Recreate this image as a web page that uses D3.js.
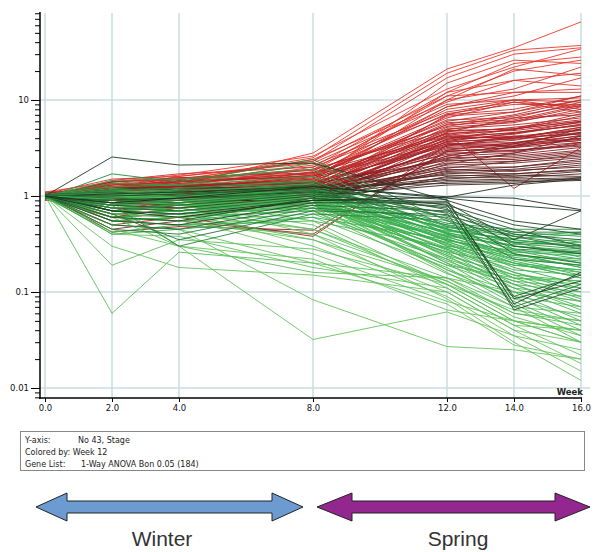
<!DOCTYPE html>
<html>
<head>
<meta charset="utf-8">
<script src="https://cdn.jsdelivr.net/npm/d3@7"></script>
<style>
  body { margin: 0; background: #fff; }
  svg { display: block; }
</style>
</head>
<body>
<svg id="chart"></svg>
<script>
// Time points (weeks) and tick labels
const weeks = [0, 2, 4, 8, 12, 14, 16];
const xTickLabels = ["0.0", "2.0", "4.0", "8.0", "12.0", "14.0", "16.0"];
const yMajorTicks = [0.01, 0.1, 1, 10];
const yTickLabels = ["0.01", "0.1", "1", "10"];

// Normalised expression per gene at each week
const strongUp = [
  [1.00,1.25,1.30,2.80,21,35,65],
  [1.05,1.15,1.45,2.50,19,33,37],
  [0.95,1.35,1.50,2.30,17,30,35],
  [1.00,1.40,1.65,2.60,13,22,34],
  [1.10,1.20,1.25,2.00,12,24,28],
  [0.90,1.05,1.10,1.80,11,20,26],
  [1.00,0.95,1.30,1.90,10,13,22],
  [1.00,1.30,1.40,2.40,9.5,16,19],
  [1.05,1.50,1.60,2.20,9.0,10,10.5],
  [0.95,1.20,1.50,1.70,8.5,11,17],
  [1.00,1.10,1.20,1.60,8.0,10,9.5],
  [1.00,0.80,1.00,1.50,8.5,12,12],
  [0.90,1.20,1.40,2.10,7.5,9.5,8.5],
  [1.10,1.40,1.55,1.50,12,16,14],
  [1.00,0.70,0.85,1.30,10,21,18],
  [1.00,1.00,1.15,1.40,15,26,24],
  [0.95,1.45,1.70,2.00,7.0,8.0,11],
  [1.05,1.25,1.35,1.75,7.2,9.0,9.0],
  [1.00,0.90,1.05,1.25,6.8,7.5,10],
  [1.00,1.35,1.25,1.65,6.5,9.5,7.5],
  [0.92,0.60,0.75,1.10,7.0,10,8.0],
  [1.08,1.20,1.60,2.30,11,12,13]
];

const moderateUp = [
  [1.00,1.10,1.20,1.60,6.2,6.5,9.5],
  [0.95,0.95,1.05,1.40,5.8,6.2,8.8],
  [1.05,1.30,1.40,1.70,5.5,6.0,7.5],
  [1.00,0.85,0.90,1.20,5.2,5.8,8.0],
  [0.98,1.15,1.25,1.50,5.0,5.5,6.5],
  [1.02,1.40,1.50,1.90,4.8,5.0,6.0],
  [1.00,0.75,0.80,1.10,4.6,6.5,7.0],
  [0.93,1.05,1.10,1.35,4.5,4.8,5.8],
  [1.07,1.20,1.30,1.45,4.4,5.2,6.2],
  [1.00,0.65,0.70,0.95,4.2,4.5,5.5],
  [0.96,1.00,1.15,1.30,4.1,4.0,5.0],
  [1.04,1.25,1.45,1.60,4.0,4.6,5.4],
  [1.00,0.90,0.95,1.05,3.9,4.2,4.8],
  [0.97,1.10,1.20,1.25,3.8,4.4,5.6],
  [1.03,0.55,0.60,0.90,3.7,3.9,4.6],
  [1.00,1.35,1.20,1.55,3.6,4.1,4.4],
  [0.99,0.80,0.90,1.15,3.5,3.6,4.2],
  [1.01,1.00,1.05,1.20,3.4,3.8,4.9],
  [0.94,1.15,1.30,1.40,3.3,3.5,4.0],
  [1.06,0.70,0.80,1.00,3.2,3.4,3.9],
  [1.00,1.05,1.10,1.10,3.1,3.3,3.8],
  [1.00,0.45,0.55,0.40,3.0,3.6,4.5],
  [0.95,0.50,0.60,0.38,3.4,4.0,5.2],
  [1.05,0.42,0.48,0.44,2.9,3.2,3.6],
  [1.00,1.20,1.35,1.65,6.0,7.5,11],
  [0.98,0.95,1.00,1.30,5.6,7.0,10],
  [1.02,1.30,1.50,1.85,5.3,6.8,9.0],
  [1.00,0.85,1.00,1.20,4.9,6.0,8.5],
  [0.96,1.10,1.25,1.45,4.7,5.0,7.2],
  [1.04,0.60,0.75,1.00,4.3,4.9,6.8],
  [1.00,1.40,1.55,1.75,4.2,4.0,5.2],
  [0.97,1.00,1.10,1.25,3.9,5.0,6.0],
  [1.03,0.75,0.85,1.05,3.7,4.5,5.9],
  [1.00,1.25,1.30,1.35,3.5,3.3,4.3],
  [1.00,0.90,0.75,0.95,3.3,4.2,3.6],
  [0.95,1.15,1.40,1.60,4.5,1.2,3.2],
  [1.05,0.80,0.95,1.15,3.0,3.0,3.4]
];

const weakUp = [
  [1.00,1.00,1.05,1.20,2.9,3.2,4.0],
  [0.97,0.85,0.90,1.10,2.8,2.9,3.6],
  [1.03,1.15,1.20,1.30,2.7,3.0,3.3],
  [1.00,0.70,0.80,0.95,2.6,2.8,3.5],
  [0.95,1.05,1.10,1.15,2.5,2.6,3.0],
  [1.05,0.95,1.00,1.05,2.4,2.7,3.2],
  [1.00,1.20,1.25,1.35,2.35,2.4,2.8],
  [0.98,0.60,0.65,0.85,2.3,2.5,2.9],
  [1.02,1.10,1.15,1.20,2.2,2.3,2.6],
  [1.00,0.90,0.95,1.00,2.1,2.2,2.5],
  [0.96,1.00,1.05,1.10,2.0,2.0,2.3],
  [1.04,0.80,0.85,0.95,1.95,2.3,2.7],
  [1.00,1.10,1.10,1.15,1.9,1.8,2.1],
  [0.99,0.75,0.80,0.90,1.85,2.0,2.4],
  [1.01,1.05,1.00,1.05,1.8,1.9,2.2],
  [1.00,0.95,0.90,1.00,1.75,1.7,1.9],
  [0.97,0.85,0.95,1.05,1.7,1.85,2.0],
  [1.03,1.15,1.20,1.25,1.65,1.6,1.8],
  [1.00,0.70,0.75,0.85,1.6,1.7,1.85],
  [1.00,1.00,1.05,1.10,1.55,1.55,1.7],
  [0.95,0.90,1.00,1.00,1.5,1.65,1.6],
  [1.05,1.05,1.10,1.15,1.45,1.5,1.55],
  [1.00,0.80,0.85,0.95,1.4,1.45,1.5],
  [1.00,1.10,1.00,1.05,2.6,3.5,4.6],
  [0.98,0.95,1.00,1.15,2.45,3.3,5.0],
  [1.02,0.65,0.70,0.90,2.15,2.8,4.2],
  [1.00,1.20,1.15,1.25,1.35,1.40,1.45],
  [0.97,0.90,0.95,1.00,1.3,1.35,1.55]
];

const weakDown = [
  [1.00,2.55,2.10,2.20,0.90,0.55,0.45],
  [1.00,1.05,1.10,1.25,0.95,0.80,0.70],
  [0.95,0.90,0.95,1.10,0.92,0.075,0.16],
  [1.05,0.70,0.65,0.90,0.88,0.085,0.13],
  [1.00,0.55,0.50,0.85,0.85,0.35,0.70],
  [0.98,0.80,0.75,1.00,0.82,0.065,0.11],
  [1.02,1.00,1.05,1.20,0.80,0.50,0.40],
  [1.00,0.60,0.55,0.95,0.78,0.30,0.25],
  [0.96,0.85,0.80,1.05,0.75,0.09,0.15],
  [1.04,1.10,1.00,1.30,0.72,0.45,0.30],
  [1.00,0.50,0.45,0.80,0.70,0.40,0.35],
  [0.97,0.75,0.70,0.95,0.68,0.25,0.20],
  [1.03,0.95,0.90,1.15,0.66,0.07,0.12],
  [1.00,0.65,0.35,0.70,0.64,0.38,0.28],
  [0.99,0.90,0.85,1.10,0.62,0.42,0.42],
  [1.01,0.45,0.40,0.75,0.60,0.33,0.30],
  [1.00,1.15,1.20,1.40,0.58,0.28,0.26],
  [0.95,0.80,0.30,0.65,0.56,0.22,0.19],
  [1.00,0.70,0.60,0.90,0.97,1.30,1.50],
  [1.00,0.85,0.95,1.25,0.98,0.95,0.72]
];

const moderateDown = [
  [1.00,0.95,1.00,1.20,0.52,0.45,0.45],
  [0.98,0.85,0.90,1.05,0.50,0.42,0.38],
  [1.02,1.05,1.10,1.30,0.48,0.40,0.33],
  [1.00,0.75,0.80,0.95,0.47,0.38,0.42],
  [0.96,0.90,0.95,1.10,0.45,0.30,0.26],
  [1.04,1.10,1.15,1.25,0.44,0.35,0.30],
  [1.00,0.65,0.70,0.90,0.42,0.28,0.22],
  [0.97,0.80,0.85,1.00,0.41,0.33,0.35],
  [1.03,1.00,0.95,1.15,0.40,0.25,0.18],
  [1.00,0.55,0.60,0.80,0.39,0.30,0.27],
  [0.99,0.90,0.85,1.05,0.38,0.22,0.16],
  [1.01,1.20,1.10,1.35,0.37,0.26,0.24],
  [1.00,0.70,0.75,0.85,0.36,0.20,0.14],
  [0.95,0.85,0.80,0.95,0.35,0.24,0.21],
  [1.05,1.05,1.00,1.10,0.34,0.18,0.12],
  [1.00,0.60,0.65,0.75,0.33,0.22,0.19],
  [0.98,0.95,0.90,1.00,0.32,0.16,0.10],
  [1.02,0.75,0.70,0.90,0.31,0.19,0.17],
  [1.00,1.10,1.05,1.20,0.30,0.14,0.085],
  [0.97,0.80,0.75,0.85,0.29,0.17,0.15],
  [1.03,0.65,0.60,0.70,0.28,0.12,0.07],
  [1.00,1.00,0.95,1.05,0.27,0.15,0.13],
  [0.96,0.85,0.80,0.80,0.26,0.11,0.06],
  [1.04,0.70,0.75,0.95,0.25,0.14,0.12],
  [1.00,0.90,0.85,0.90,0.24,0.10,0.05],
  [0.99,1.15,1.05,1.10,0.23,0.13,0.11],
  [1.01,0.60,0.55,0.65,0.22,0.09,0.045],
  [1.00,0.80,0.85,0.85,0.21,0.12,0.10],
  [0.95,0.95,0.90,0.95,0.20,0.08,0.04],
  [1.05,0.75,0.70,0.75,0.19,0.11,0.09],
  [1.00,0.55,0.50,0.60,0.18,0.075,0.035],
  [0.98,0.85,0.80,0.80,0.17,0.10,0.08],
  [1.02,1.00,0.95,0.90,0.16,0.07,0.03],
  [1.00,0.65,0.60,0.70,0.155,0.09,0.07],
  [1.00,1.05,1.00,1.10,0.50,0.32,0.28],
  [0.97,0.90,0.85,1.00,0.46,0.27,0.20],
  [1.03,0.75,0.70,0.85,0.43,0.36,0.40],
  [1.00,1.15,1.20,1.45,0.41,0.23,0.19],
  [0.96,0.60,0.55,0.75,0.38,0.31,0.33],
  [1.04,0.85,0.90,1.05,0.36,0.21,0.15],
  [1.00,0.95,1.00,1.15,0.34,0.27,0.25],
  [0.99,0.70,0.65,0.80,0.32,0.20,0.17],
  [1.01,1.10,1.05,1.25,0.30,0.24,0.22],
  [1.00,0.80,0.75,0.90,0.28,0.16,0.11],
  [0.95,0.65,0.70,0.80,0.26,0.19,0.16],
  [1.05,0.95,0.90,1.00,0.24,0.15,0.09],
  [1.00,0.75,0.80,0.85,0.22,0.13,0.08],
  [0.98,1.05,1.00,1.05,0.20,0.12,0.065],
  [1.02,0.55,0.60,0.70,0.19,0.14,0.13],
  [1.00,0.85,0.80,0.90,0.17,0.085,0.055],
  [1.00,0.40,0.45,0.60,0.35,0.25,0.18],
  [0.97,0.42,0.50,0.55,0.29,0.20,0.14],
  [1.03,1.25,1.30,1.60,0.45,0.35,0.29],
  [1.00,1.45,1.50,1.90,0.40,0.30,0.25],
  [0.95,1.70,1.40,2.40,0.55,0.38,0.31],
  [1.00,1.35,1.30,2.20,0.48,0.33,0.23]
];

const strongDown = [
  [1.00,0.06,0.26,0.20,0.14,0.06,0.05],
  [1.00,0.19,0.35,0.28,0.12,0.05,0.04],
  [1.00,0.30,0.18,0.15,0.10,0.04,0.03],
  [0.95,0.45,0.30,0.032,0.062,0.035,0.025],
  [1.00,0.50,0.45,0.083,0.027,0.025,0.02],
  [1.00,0.55,0.50,0.40,0.13,0.06,0.045],
  [0.98,0.70,0.65,0.45,0.12,0.05,0.03],
  [1.02,0.85,0.80,0.50,0.11,0.045,0.022],
  [1.00,0.60,0.55,0.35,0.10,0.04,0.018],
  [0.97,0.75,0.70,0.30,0.09,0.035,0.015],
  [1.03,0.90,0.85,0.40,0.085,0.03,0.012],
  [1.00,0.65,0.60,0.25,0.08,0.05,0.03],
  [0.96,0.50,0.45,0.20,0.075,0.028,0.02],
  [1.04,0.80,0.75,0.45,0.14,0.07,0.06],
  [1.00,0.70,0.65,0.35,0.13,0.055,0.035],
  [0.99,0.95,0.90,0.55,0.12,0.065,0.05],
  [1.01,0.40,0.38,0.18,0.11,0.045,0.04],
  [1.00,0.85,0.30,0.22,0.065,0.05,0.04],
  [1.00,0.60,0.30,0.16,0.14,0.10,0.08]
];

// Layout
const W = 595, H = 552;
const svg = d3.select("#chart").attr("width", W).attr("height", H);

const x = d3.scaleLinear().domain([0, 16]).range([45, 581]);
const y = d3.scaleLog().domain([0.00787, 80.5]).range([398, 13]);

// Colour by week 12 value: green (down) - black - red (up)
const color = d3.scaleLinear()
  .domain([-1.0, -0.35, 0, 0.5, 1.1])
  .range(["#68c45e", "#30aa4b", "#1c2b1e", "#9f1e24", "#ee392c"])
  .clamp(true);

// Grid
const gridColor = "#c8dcdd";
svg.append("g").selectAll("line")
  .data(weeks)
  .enter().append("line")
  .attr("x1", d => x(d)).attr("x2", d => x(d))
  .attr("y1", 13).attr("y2", 398)
  .attr("stroke", gridColor).attr("stroke-width", 1.5);

svg.append("g").selectAll("line")
  .data(yMajorTicks)
  .enter().append("line")
  .attr("x1", 40).attr("x2", 590)
  .attr("y1", d => y(d)).attr("y2", d => y(d))
  .attr("stroke", gridColor).attr("stroke-width", 1.5);

// Gene lines
const line = d3.line()
  .x((d, i) => x(weeks[i]))
  .y(d => y(d));

const genes = [].concat(strongUp, moderateUp, weakUp, strongDown, moderateDown, weakDown);

svg.append("g").selectAll("path")
  .data(genes)
  .enter().append("path")
  .attr("fill", "none")
  .attr("stroke", d => color(Math.log10(d[4])))
  .attr("stroke-width", 1)
  .attr("stroke-opacity", 0.9)
  .attr("d", line);

// Y axis (log, major + minor ticks)
const minorTicks = y.ticks().filter(t => !yMajorTicks.includes(t));

svg.append("g")
  .attr("transform", "translate(40,0)")
  .call(d3.axisLeft(y).tickValues(minorTicks).tickSize(5).tickFormat(""))
  .call(g => g.select(".domain").remove());

svg.append("g")
  .attr("transform", "translate(40,0)")
  .call(d3.axisLeft(y).tickValues(yMajorTicks).tickSize(9).tickPadding(2)
    .tickFormat((d, i) => yTickLabels[i]))
  .call(g => g.select(".domain").remove());

svg.append("line")
  .attr("x1", 40).attr("x2", 40)
  .attr("y1", 12).attr("y2", 399)
  .attr("stroke", "#000").attr("stroke-width", 1.5);

// X axis
svg.append("g")
  .attr("transform", "translate(0,398)")
  .call(d3.axisBottom(x).tickValues(weeks).tickSize(4).tickPadding(3)
    .tickFormat((d, i) => xTickLabels[i]))
  .call(g => g.select(".domain").remove());

svg.append("line")
  .attr("x1", 39).attr("x2", 582)
  .attr("y1", 398).attr("y2", 398)
  .attr("stroke", "#000").attr("stroke-width", 1.5);

svg.selectAll(".tick text")
  .attr("font-family", "DejaVu Sans, sans-serif")
  .attr("font-size", 8.5)
  .attr("fill", "#111");
svg.selectAll(".tick line").attr("stroke", "#000");

svg.append("text")
  .attr("x", 583).attr("y", 395)
  .attr("text-anchor", "end")
  .attr("font-family", "DejaVu Sans, sans-serif")
  .attr("font-size", 8.5)
  .attr("font-weight", "bold")
  .attr("fill", "#222")
  .text("Week");

// Info box
const info = svg.append("g").attr("font-family", "DejaVu Sans, sans-serif")
  .attr("font-size", 8).attr("fill", "#222");
info.append("rect")
  .attr("x", 20.5).attr("y", 431.5).attr("width", 564).attr("height", 39)
  .attr("fill", "#fff").attr("stroke", "#888");
info.append("text").attr("x", 25).attr("y", 443).text("Y-axis:");
info.append("text").attr("x", 78).attr("y", 443).text("No 43, Stage");
info.append("text").attr("x", 25).attr("y", 455).text("Colored by: Week 12");
info.append("text").attr("x", 25).attr("y", 467).text("Gene List:");
info.append("text").attr("x", 81).attr("y", 467).text("1-Way ANOVA Bon 0.05 (184)");

// Season arrows
function arrowPath(x0, x1, cy, head, hh, sh) {
  const p = d3.path();
  p.moveTo(x0, cy);
  p.lineTo(x0 + head, cy - hh);
  p.lineTo(x0 + head, cy - sh);
  p.lineTo(x1 - head, cy - sh);
  p.lineTo(x1 - head, cy - hh);
  p.lineTo(x1, cy);
  p.lineTo(x1 - head, cy + hh);
  p.lineTo(x1 - head, cy + sh);
  p.lineTo(x0 + head, cy + sh);
  p.lineTo(x0 + head, cy + hh);
  p.closePath();
  return p.toString();
}

svg.append("path")
  .attr("d", arrowPath(36, 303, 507, 31, 14, 6))
  .attr("fill", "#6b9bd0").attr("stroke", "#222").attr("stroke-width", 1);
svg.append("path")
  .attr("d", arrowPath(317, 590, 507, 35, 14, 6))
  .attr("fill", "#93278f").attr("stroke", "#222").attr("stroke-width", 1);

svg.append("text")
  .attr("x", 162).attr("y", 546)
  .attr("text-anchor", "middle")
  .attr("font-family", "Liberation Sans, Arial, sans-serif")
  .attr("font-size", 21)
  .attr("fill", "#333")
  .text("Winter");
svg.append("text")
  .attr("x", 458).attr("y", 546)
  .attr("text-anchor", "middle")
  .attr("font-family", "Liberation Sans, Arial, sans-serif")
  .attr("font-size", 21)
  .attr("fill", "#333")
  .text("Spring");
</script>
</body>
</html>
